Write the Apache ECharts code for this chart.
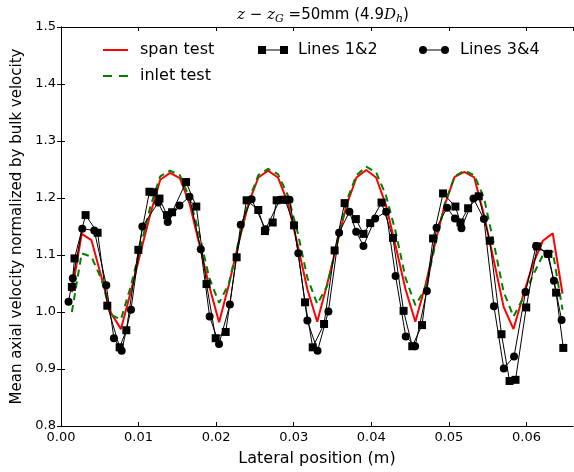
<!DOCTYPE html>
<html>
<head>
<meta charset="utf-8">
<script src="https://cdn.jsdelivr.net/npm/echarts@6/dist/echarts.min.js"></script>
<style>
  html, body { margin: 0; padding: 0; background: #fff; }
  #chart { width: 574px; height: 472px; }
</style>
</head>
<body>
<div id="chart"></div>
<script>
// Lateral positions (m) of the simulation profiles
var simX = [0.00140, 0.00267, 0.00393, 0.00520, 0.00646, 0.00773, 0.00899, 0.01026, 0.01152, 0.01279,
            0.01405, 0.01532, 0.01658, 0.01785, 0.01911, 0.02038, 0.02164, 0.02291, 0.02417, 0.02544,
            0.02670, 0.02797, 0.02923, 0.03050, 0.03176, 0.03303, 0.03429, 0.03556, 0.03682, 0.03809,
            0.03935, 0.04062, 0.04188, 0.04315, 0.04441, 0.04568, 0.04694, 0.04821, 0.04947, 0.05074,
            0.05200, 0.05327, 0.05453, 0.05580, 0.05706, 0.05833, 0.05959, 0.06086, 0.06212, 0.06339,
            0.06465];

// Span test profile
var spanTest = [1.035, 1.137, 1.126, 1.062, 0.998, 0.970, 1.035, 1.105, 1.172, 1.232,
                1.244, 1.235, 1.190, 1.118, 1.045, 0.982, 1.048, 1.122, 1.190, 1.236,
                1.248, 1.236, 1.192, 1.118, 1.040, 0.983, 1.048, 1.118, 1.188, 1.236,
                1.249, 1.236, 1.188, 1.115, 1.040, 0.983, 1.045, 1.120, 1.188, 1.237,
                1.246, 1.236, 1.170, 1.090, 1.009, 0.970, 1.030, 1.085, 1.125, 1.138,
                1.032];

// Inlet test profile
var inletTest = [1.000, 1.103, 1.097, 1.058, 0.995, 0.987, 1.045, 1.115, 1.185, 1.238,
                 1.248, 1.240, 1.200, 1.135, 1.060, 1.016, 1.050, 1.125, 1.195, 1.240,
                 1.251, 1.242, 1.205, 1.140, 1.060, 1.014, 1.045, 1.120, 1.195, 1.240,
                 1.255, 1.245, 1.205, 1.140, 1.060, 1.012, 1.040, 1.115, 1.190, 1.238,
                 1.248, 1.240, 1.200, 1.120, 1.035, 0.992, 1.025, 1.065, 1.100, 1.106,
                 1.004];

// Measurements, lines 1 & 2
var lines12X = [0.00140, 0.00174, 0.00317, 0.00472, 0.00597, 0.00756, 0.00842, 0.00997, 0.01140, 0.01195,
                0.01269, 0.01367, 0.01432, 0.01612, 0.01744, 0.01876, 0.01994, 0.02123, 0.02264, 0.02393,
                0.02543, 0.02629, 0.02729, 0.02780, 0.02888, 0.03004, 0.03146, 0.03245, 0.03391, 0.03527,
                0.03656, 0.03801, 0.03899, 0.03986, 0.04132, 0.04279, 0.04416, 0.04528, 0.04654, 0.04796,
                0.04925, 0.05084, 0.05149, 0.05248, 0.05385, 0.05527, 0.05678, 0.05782, 0.05859, 0.05997,
                0.06140, 0.06282, 0.06382, 0.06475];
var lines12Y = [1.044, 1.094, 1.170, 1.139, 1.011, 0.938, 0.968, 1.109, 1.211, 1.210,
                1.199, 1.170, 1.175, 1.228, 1.185, 1.049, 0.954, 0.965, 1.096, 1.196,
                1.179, 1.142, 1.157, 1.196, 1.197, 1.152, 1.017, 0.938, 0.979, 1.108,
                1.191, 1.163, 1.137, 1.156, 1.192, 1.130, 1.002, 0.940, 0.977, 1.129,
                1.208, 1.185, 1.157, 1.182, 1.203, 1.125, 0.961, 0.879, 0.881, 1.008,
                1.115, 1.102, 1.034, 0.937];

// Measurements, lines 3 & 4
var lines34X = [0.00097, 0.00152, 0.00274, 0.00429, 0.00584, 0.00682, 0.00782, 0.00902, 0.01049, 0.01253,
                0.01376, 0.01527, 0.01656, 0.01802, 0.01916, 0.02037, 0.02177, 0.02317, 0.02457, 0.02636,
                0.02823, 0.02888, 0.02946, 0.03059, 0.03176, 0.03307, 0.03447, 0.03585, 0.03718, 0.03805,
                0.03899, 0.04050, 0.04192, 0.04313, 0.04444, 0.04565, 0.04716, 0.04841, 0.04977, 0.05078,
                0.05162, 0.05317, 0.05452, 0.05581, 0.05708, 0.05840, 0.05988, 0.06124, 0.06269, 0.06354,
                0.06453];
var lines34Y = [1.018, 1.059, 1.146, 1.143, 1.047, 0.954, 0.932, 1.004, 1.150, 1.192,
                1.158, 1.187, 1.202, 1.110, 0.992, 0.944, 1.013, 1.153, 1.198, 1.145,
                1.197, 1.197, 1.197, 1.103, 0.985, 0.932, 1.001, 1.139, 1.176, 1.141,
                1.116, 1.164, 1.176, 1.063, 0.957, 0.940, 1.037, 1.148, 1.183, 1.164,
                1.147, 1.199, 1.163, 1.010, 0.901, 0.922, 1.035, 1.116, 1.102, 1.055,
                0.986];

var xTicks = { min: 0, max: 0.066, interval: 0.01 };
var yTicks = { min: 0.8, max: 1.5, interval: 0.1 };

function pairs(xs, ys) {
  return xs.map(function (x, i) { return [x, ys[i]]; });
}

var FONT = 'DejaVu Sans';
var chart = echarts.init(document.getElementById('chart'), null, { renderer: 'canvas' });

var axisLineStyle = { lineStyle: { color: '#000', width: 1 } };
var tickStyle = { inside: true, length: 4, lineStyle: { color: '#000', width: 1 } };

var sqIcon = 'path://M0,0H8V8H0Z M8,3.5H22V4.5H8Z M22,0H30V8H22Z';
var ciIcon = 'path://M0,4A4,4 0 1,1 8,4A4,4 0 1,1 0,4Z M8,3.5H22V4.5H8Z M22,4A4,4 0 1,1 30,4A4,4 0 1,1 22,4Z';

function legendAt(name, left, top, icon, w, h, pad) {
  return {
    data: [{ name: name, icon: icon }],
    left: left, top: top,
    itemWidth: w, itemHeight: h,
    selectedMode: false,
    textStyle: { fontFamily: FONT, fontSize: 16, color: '#000', padding: [0, 0, 0, pad] }
  };
}

chart.setOption({
  animation: false,
  backgroundColor: '#fff',
  title: {
    text: '{m|z − z}{s|G}{n| =50mm (4.9}{m|D}{s|h}{n|)}',
    left: 318, top: 1, textAlign: 'center',
    textStyle: {
      fontWeight: 'normal',
      rich: {
        m: { fontFamily: 'DejaVu Serif', fontStyle: 'italic', fontWeight: 'normal', fontSize: 15, color: '#000', lineHeight: 19 },
        s: { fontFamily: 'DejaVu Serif', fontStyle: 'italic', fontWeight: 'normal', fontSize: 11, color: '#000', lineHeight: 19, padding: [7, 0, 0, 0] },
        n: { fontFamily: FONT, fontWeight: 'normal', fontSize: 15, color: '#000', lineHeight: 19 }
      }
    }
  },
  legend: [
    legendAt('span test', 98, 37, 'path://M0,0H25V2H0Z', 25, 2, 7),
    legendAt('inlet test', 98, 63, 'path://M0,0H9V2H0Z M16,0H25V2H16Z', 25, 2, 7),
    legendAt('Lines 1&2', 253, 37, sqIcon, 30, 8, 5),
    legendAt('Lines 3&4', 414, 37, ciIcon, 30, 8, 6)
  ],
  grid: { left: 61, right: 1, top: 27, bottom: 46, containLabel: false },
  xAxis: [{
    type: 'value', position: 'bottom',
    min: xTicks.min, max: xTicks.max, interval: xTicks.interval,
    name: 'Lateral position (m)', nameLocation: 'middle', nameGap: 25,
    nameTextStyle: { fontFamily: FONT, fontSize: 16, color: '#000' },
    axisLine: axisLineStyle, axisTick: tickStyle,
    axisLabel: { fontFamily: FONT, fontSize: 13, color: '#000', margin: 5, showMaxLabel: false,
                 formatter: function (v) { return v.toFixed(2); } },
    splitLine: { show: false }
  }, {
    type: 'value', position: 'top',
    min: xTicks.min, max: xTicks.max, interval: xTicks.interval,
    axisLine: axisLineStyle, axisTick: tickStyle,
    axisLabel: { show: false }, splitLine: { show: false }
  }],
  yAxis: [{
    type: 'value', position: 'left',
    min: yTicks.min, max: yTicks.max, interval: yTicks.interval,
    name: 'Mean axial velocity normalized by bulk velocity', nameLocation: 'middle', nameGap: 36,
    nameTextStyle: { fontFamily: FONT, fontSize: 15, color: '#000' },
    axisLine: axisLineStyle, axisTick: tickStyle,
    axisLabel: { fontFamily: FONT, fontSize: 13, color: '#000', margin: 5,
                 formatter: function (v) { return v.toFixed(1); } },
    splitLine: { show: false }
  }, {
    type: 'value', position: 'right',
    min: yTicks.min, max: yTicks.max, interval: yTicks.interval,
    axisLine: axisLineStyle, axisTick: tickStyle,
    axisLabel: { show: false }, splitLine: { show: false }
  }],
  series: [{
    name: 'span test', type: 'line',
    data: pairs(simX, spanTest),
    symbol: 'none', itemStyle: { color: '#ff0000' },
    lineStyle: { color: '#ff0000', width: 2 }
  }, {
    name: 'inlet test', type: 'line',
    data: pairs(simX, inletTest),
    symbol: 'none', itemStyle: { color: '#008000' },
    lineStyle: { color: '#008000', width: 2, type: [7, 5] }
  }, {
    name: 'Lines 1&2', type: 'line',
    data: pairs(lines12X, lines12Y),
    symbol: 'rect', symbolSize: 8,
    itemStyle: { color: '#000' },
    lineStyle: { color: '#000', width: 1 }
  }, {
    name: 'Lines 3&4', type: 'line',
    data: pairs(lines34X, lines34Y),
    symbol: 'circle', symbolSize: 8,
    itemStyle: { color: '#000' },
    lineStyle: { color: '#000', width: 1 }
  }]
});
</script>
</body>
</html>
